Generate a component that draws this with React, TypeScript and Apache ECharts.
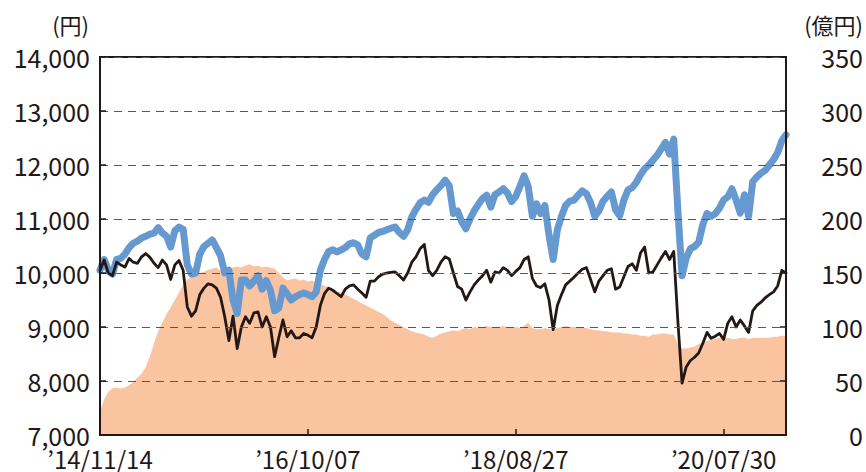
import React, { useEffect, useRef } from "react";
import * as echarts from "echarts";

// x-axis tick labels, one every `tickEvery` samples
const tickLabels = ["’14/11/14", "’16/10/07", "’18/08/27", "’20/07/30"];
const tickEvery = 50;

// 基準価額（分配金再投資）(円) – blue
const navReinvested = [
  10050, 10250, 10050, 9980, 10250, 10270, 10350, 10470, 10550, 10590,
  10650, 10680, 10720, 10740, 10840, 10740, 10680, 10480, 10780, 10850,
  10810, 10150, 9980, 10000, 10350, 10490, 10550, 10610, 10470, 10320,
  10000, 10050, 9500, 9250, 9870, 9870, 9760, 9850, 9950, 9700,
  9860, 9680, 9300, 9350, 9720, 9620, 9500, 9560, 9600, 9630,
  9600, 9560, 9650, 10050, 10250, 10400, 10430, 10390, 10430, 10470,
  10540, 10560, 10520, 10350, 10300, 10650, 10700, 10750, 10770, 10800,
  10830, 10850, 10750, 10680, 10800, 11040, 11180, 11300, 11350, 11310,
  11450, 11540, 11620, 11720, 11620, 11100, 11150, 10950, 10820, 11000,
  11150, 11270, 11380, 11440, 11220, 11450, 11500, 11560, 11480, 11320,
  11420, 11600, 11800, 11600, 11050, 11280, 11100, 11250, 10700, 10250,
  10800, 11050, 11250, 11330, 11350, 11440, 11520, 11470, 11300, 11050,
  11150, 11330, 11420, 11500, 11170, 11060, 11350, 11540, 11580, 11680,
  11820, 11930, 12000, 12090, 12180, 12300, 12420, 12200, 12480, 11150,
  9950, 10280, 10450, 10490, 10570, 10900, 11100, 11050, 11100, 11200,
  11350, 11410, 11560, 11350, 11110, 11450, 11050, 11690, 11780, 11850,
  11900, 12000, 12100, 12230, 12450, 12560,
];

// 基準価額 (円) – black
const nav = [
  10050, 10240, 10000, 9950, 10200, 10150, 10110, 10270, 10200, 10180,
  10300, 10360, 10290, 10180, 10100, 10240, 10150, 9880, 10150, 10230,
  10050, 9370, 9200, 9300, 9600, 9720, 9800, 9780, 9720, 9550,
  9190, 8750, 9200, 8600, 9000, 9190, 9070, 9260, 9280, 9000,
  9190, 9000, 8450, 8800, 9130, 8820, 8930, 8800, 8800, 8880,
  8850, 8800, 9000, 9400, 9620, 9720, 9680, 9620, 9560, 9700,
  9760, 9780, 9700, 9630, 9550, 9850, 9850, 9930, 9980, 10000,
  10010, 10020, 9950, 9870, 10000, 10200, 10300, 10450, 10530, 10050,
  9950, 10050, 10200, 10300, 10260, 10000, 9750, 9700, 9500, 9650,
  9780, 9870, 9950, 10050, 9830, 10020, 10000, 10100, 10050, 9950,
  10030, 10100, 10250, 10300, 9900, 9760, 9730, 9800, 9500, 8950,
  9400, 9600, 9780, 9850, 9920, 10000, 10070, 10100, 9880, 9650,
  9850, 9950, 10050, 10080, 9700, 9740, 9930, 10120, 10170, 10050,
  10370, 10480, 10000, 10020, 10150, 10280, 10400, 10250, 10400, 9100,
  7960, 8260, 8380, 8440, 8520, 8700, 8900, 8790, 8830, 8880,
  8770, 9070, 9190, 9000, 9130, 9020, 8900, 9300, 9400, 9460,
  9540, 9600, 9650, 9760, 10050, 10000,
];

// 純資産総額 (億円) – orange area
const netAssets = [
  22, 33, 40, 43, 44, 43, 44, 46, 49, 53,
  57, 63, 73, 85, 96, 104, 112, 118, 125, 132,
  139, 144, 146, 149, 150, 151, 153, 154, 155, 152,
  151, 152, 155, 156, 155, 157, 158, 156, 157, 155,
  156, 155, 154, 150, 146, 143, 144, 145, 143, 144,
  142, 143, 141, 140, 138, 137, 135, 133, 132, 130,
  128, 126, 124, 122, 120, 118, 116, 114, 112, 109,
  106, 104, 102, 100, 98, 96, 95, 94, 93, 91,
  90, 92, 94, 95, 96, 97, 96, 98, 99, 98,
  100, 99, 100, 101, 100, 99, 100, 101, 100, 99,
  100, 99, 101, 104, 99, 98, 98, 99, 98, 98,
  99, 100, 101, 100, 100, 100, 99, 99, 98, 97,
  97, 96, 96, 95, 95, 95, 94, 94, 93, 93,
  92, 92, 91, 93, 93, 94, 94, 93, 93, 84,
  80, 80, 81, 82, 84, 86, 87, 88, 89, 90,
  90, 90, 89, 89, 90, 90, 89, 90, 90, 90,
  90, 90, 91, 91, 92, 92,
];

const leftUnit = "(円)";
const rightUnit = "(億円)";

const FONT = "'Noto Sans CJK JP', 'Noto Sans', sans-serif";
const INK = "#231815";
const BLUE = "#6699d0";
const ORANGE = "#fac4a0";

export default function App() {
  const ref = useRef<HTMLDivElement>(null);

  useEffect(() => {
    if (!ref.current) return;
    const chart = echarts.init(ref.current, null, { renderer: "svg" });
    const cats = nav.map((_, i) => String(i));
    const isTick = (i: number) => i % tickEvery === 0;

    chart.setOption({
      animation: false,
      backgroundColor: "#ffffff",
      grid: {
        left: 100,
        right: 79,
        top: 57,
        bottom: 37,
        show: true,
        borderColor: INK,
        borderWidth: 2,
        backgroundColor: "transparent",
      },
      graphic: [
        {
          type: "text",
          right: 777,
          top: 13,
          style: { text: leftUnit, font: `22px ${FONT}`, fill: INK },
        },
        {
          type: "text",
          right: 3,
          top: 13,
          style: { text: rightUnit, font: `22px ${FONT}`, fill: INK },
        },
      ],
      xAxis: {
        type: "category",
        boundaryGap: false,
        data: cats,
        z: 10,
        axisLine: { show: true, lineStyle: { color: INK, width: 2 } },
        axisTick: {
          show: true,
          inside: true,
          length: 6,
          interval: (i: number) => isTick(i) && i > 0,
          lineStyle: { color: INK, width: 1.5 },
        },
        axisLabel: {
          interval: (i: number) => isTick(i),
          formatter: (_v: string, i: number) =>
            isTick(i) ? tickLabels[i / tickEvery] ?? "" : "",
          color: INK,
          fontFamily: FONT,
          fontSize: 24,
          lineHeight: 22,
          margin: 12,
        },
        splitLine: { show: false },
      },
      yAxis: [
        {
          type: "value",
          min: 7000,
          max: 14000,
          interval: 1000,
          z: 10,
          axisLine: { show: true, lineStyle: { color: INK, width: 2 } },
          axisTick: {
            show: true,
            inside: true,
            length: 6,
            lineStyle: { color: INK, width: 1.5 },
          },
          axisLabel: {
            color: INK,
            fontFamily: FONT,
            fontSize: 25,
            lineHeight: 20,
            margin: 10,
            formatter: (v: number) => v.toLocaleString("en-US"),
          },
          splitLine: {
            show: true,
            lineStyle: { color: "#595757", type: [8, 6], width: 1.2 },
          },
        },
        {
          type: "value",
          min: 0,
          max: 350,
          interval: 50,
          position: "right",
          z: 10,
          axisLine: { show: true, lineStyle: { color: INK, width: 2 } },
          axisTick: {
            show: true,
            inside: true,
            length: 6,
            lineStyle: { color: INK, width: 1.5 },
          },
          axisLabel: {
            color: INK,
            fontFamily: FONT,
            fontSize: 25,
            lineHeight: 20,
            align: "right",
            margin: 77,
          },
          splitLine: { show: false },
        },
      ],
      series: [
        {
          name: "純資産総額",
          type: "line",
          yAxisIndex: 1,
          data: netAssets,
          symbol: "none",
          lineStyle: { width: 0 },
          areaStyle: { color: ORANGE, opacity: 1 },
          z: 1,
        },
        {
          name: "基準価額（分配金再投資）",
          type: "line",
          yAxisIndex: 0,
          data: navReinvested,
          symbol: "none",
          lineStyle: { color: BLUE, width: 7, join: "round", cap: "round" },
          z: 2,
        },
        {
          name: "基準価額",
          type: "line",
          yAxisIndex: 0,
          data: nav,
          symbol: "none",
          lineStyle: { color: INK, width: 2.8, join: "round", cap: "round" },
          z: 3,
        },
      ],
    });

    return () => chart.dispose();
  }, []);

  return (
    <div
      ref={ref}
      style={{ position: "fixed", left: 0, top: 0, width: 866, height: 472 }}
    />
  );
}
